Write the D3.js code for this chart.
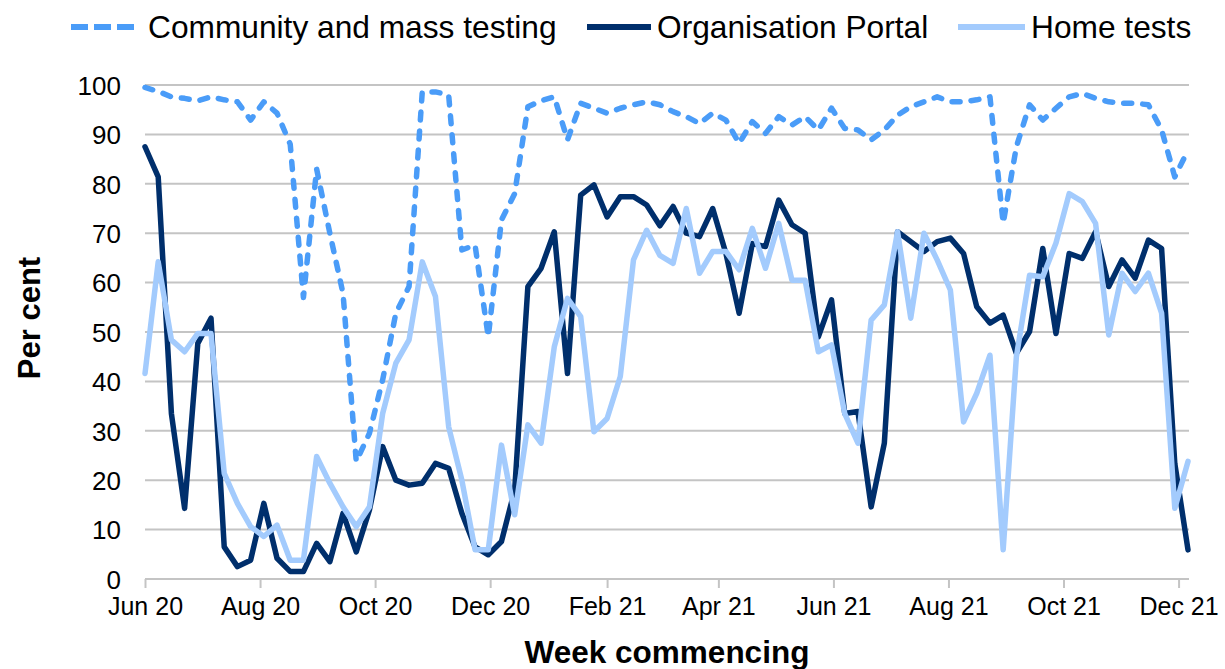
<!DOCTYPE html>
<html>
<head>
<meta charset="utf-8">
<script src="https://cdn.jsdelivr.net/npm/d3@7"></script>
<style>
  body { margin: 0; background: #fff; }
  svg text { font-family: "Liberation Sans", Arial, sans-serif; fill: #000; }
</style>
</head>
<body>
<div id="chart"></div>
<script>
// week commencing, first and last week shown
const firstWeek = new Date(2020, 5, 1);
const lastWeek = new Date(2021, 11, 6);

const tickLabels = ["Jun 20", "Aug 20", "Oct 20", "Dec 20", "Feb 21", "Apr 21", "Jun 21", "Aug 21", "Oct 21", "Dec 21"];
const yTicks = [0, 10, 20, 30, 40, 50, 60, 70, 80, 90, 100];

const seriesNames = ["Community and mass testing", "Organisation Portal", "Home tests"];

const community = [99.5, 98.7, 97.6, 97.3, 96.8, 97.6, 97.0, 96.6, 92.9, 96.6,
    94.3, 88.0, 57.0, 83.0, 70.0, 57.8, 23.8, 29.5, 40.3, 53.8,
    59.2, 98.6, 98.6, 98.0, 66.6, 67.6, 49.0, 72.7, 78.0, 95.6,
    96.8, 97.6, 88.9, 96.3, 95.3, 94.3, 95.3, 96.0, 96.6, 96.0,
    94.6, 93.6, 92.2, 94.3, 92.9, 88.2, 92.6, 90.2, 93.6, 91.9,
    93.6, 90.9, 95.3, 91.2, 90.9, 88.9, 90.9, 93.9, 95.6, 96.6,
    97.6, 96.6, 96.6, 97.0, 97.6, 72.0, 87.5, 96.0, 92.9, 95.3,
    97.6, 98.3, 97.3, 96.6, 96.3, 96.3, 96.0, 90.9, 81.4, 86.8];

const orgPortal = [87.5, 81.4, 33.5, 14.3, 47.7, 52.8, 6.5, 2.5, 3.8, 15.3,
    4.2, 1.5, 1.5, 7.2, 3.5, 13.3, 5.5, 14.0, 26.8, 20.0,
    19.0, 19.4, 23.4, 22.4, 13.3, 6.5, 4.9, 7.6, 18.0, 59.2,
    62.9, 70.3, 41.6, 77.7, 79.8, 73.3, 77.4, 77.4, 75.7, 71.5,
    75.4, 70.0, 69.3, 75.0, 65.9, 53.8, 67.9, 67.3, 76.7, 71.7,
    70.0, 49.0, 56.5, 33.5, 33.9, 14.6, 27.5, 70.3, 68.3, 66.3,
    68.3, 69.0, 65.9, 55.1, 51.8, 53.4, 45.7, 50.1, 66.9, 49.7,
    65.9, 64.9, 70.3, 59.2, 64.6, 60.9, 68.6, 66.9, 23.4, 5.9];

const homeTests = [41.6, 64.2, 48.4, 46.0, 49.7, 49.7, 21.4, 15.3, 10.6, 8.6,
    10.9, 3.8, 3.8, 24.8, 19.4, 14.6, 10.6, 14.6, 33.5, 43.7,
    48.4, 64.2, 57.2, 30.8, 20.0, 5.9, 5.9, 27.1, 13.0, 31.2,
    27.5, 47.0, 56.8, 53.1, 29.8, 32.5, 41.0, 64.6, 70.6, 65.5,
    63.9, 75.0, 61.9, 66.3, 66.3, 62.6, 71.0, 62.9, 72.0, 60.5,
    60.5, 46.0, 47.4, 33.5, 27.5, 52.4, 55.5, 70.3, 52.8, 70.0,
    64.6, 58.5, 31.8, 37.6, 45.3, 5.9, 45.0, 61.5, 61.2, 68.0,
    78.0, 76.4, 72.0, 49.4, 61.9, 58.2, 61.9, 53.8, 14.3, 23.8];

const weeks = d3.timeMonday.range(firstWeek, d3.timeDay.offset(lastWeek, 1));

const width = 1225, height = 669;
const svg = d3.select("#chart").append("svg")
    .attr("width", width)
    .attr("height", height);

const x = d3.scaleTime()
    .domain([firstWeek, lastWeek])
    .range([145, 1188]);

const y = d3.scaleLinear()
    .domain([0, 100])
    .range([579, 85]);

// gridlines
svg.append("g")
    .selectAll("line")
    .data(yTicks.slice(1))
    .join("line")
    .attr("x1", 145)
    .attr("x2", 1189)
    .attr("y1", d => y(d))
    .attr("y2", d => y(d))
    .style("stroke", "#c4c4c4")
    .style("stroke-width", 2);

// y labels
const yAxis = svg.append("g")
    .attr("transform", "translate(145,0)")
    .call(d3.axisLeft(y).tickValues(yTicks).tickSize(0).tickPadding(24));
yAxis.select(".domain").remove();
yAxis.selectAll("text")
    .style("font-size", "26px")
    .attr("dy", "0.36em");

// x axis, a tick every second month from June 2020
const monthTicks = d3.timeMonth.range(firstWeek, lastWeek, 2);
const xAxis = svg.append("g")
    .attr("transform", "translate(0,579)")
    .call(d3.axisBottom(x)
        .tickValues(monthTicks)
        .tickSize(9)
        .tickPadding(9)
        .tickFormat((d, i) => tickLabels[i]));
xAxis.select(".domain")
    .attr("d", "M145,0H1189")
    .style("stroke", "#c4c4c4")
    .style("stroke-width", 2);
xAxis.selectAll(".tick line")
    .style("stroke", "#c4c4c4")
    .style("stroke-width", 2);
xAxis.selectAll("text")
    .style("font-size", "25px");

// lines
const line = d3.line()
    .x((d, i) => x(weeks[i]))
    .y(d => y(d));

const series = [
    {name: seriesNames[0], values: community, color: "#4a9cf8", dash: "8,11"},
    {name: seriesNames[1], values: orgPortal, color: "#002f6c", dash: null},
    {name: seriesNames[2], values: homeTests, color: "#a3cbfd", dash: null}
];

series.forEach(s => {
    svg.append("path")
        .datum(s.values)
        .attr("d", line)
        .style("fill", "none")
        .style("stroke", s.color)
        .style("stroke-width", 5.5)
        .style("stroke-linejoin", "round")
        .style("stroke-linecap", "round")
        .style("stroke-dasharray", s.dash);
});

// legend
const legendPos = [{x1: 71, x2: 134, tx: 148}, {x1: 587, x2: 651, tx: 657}, {x1: 958, x2: 1025, tx: 1031}];
const legend = svg.append("g");
series.forEach((s, i) => {
    const p = legendPos[i];
    legend.append("line")
        .attr("x1", p.x1).attr("x2", p.x2)
        .attr("y1", 27).attr("y2", 27)
        .style("stroke", s.color)
        .style("stroke-width", 6)
        .style("stroke-dasharray", s.dash ? "17,6" : null);
    legend.append("text")
        .attr("x", p.tx)
        .attr("y", 38)
        .style("font-size", "31.7px")
        .text(s.name);
});

// axis titles
svg.append("text")
    .attr("transform", "translate(40,318) rotate(-90)")
    .attr("text-anchor", "middle")
    .style("font-size", "31px")
    .style("font-weight", "bold")
    .text("Per cent");

svg.append("text")
    .attr("x", 667)
    .attr("y", 663)
    .attr("text-anchor", "middle")
    .style("font-size", "31.5px")
    .style("font-weight", "bold")
    .text("Week commencing");
</script>
</body>
</html>
